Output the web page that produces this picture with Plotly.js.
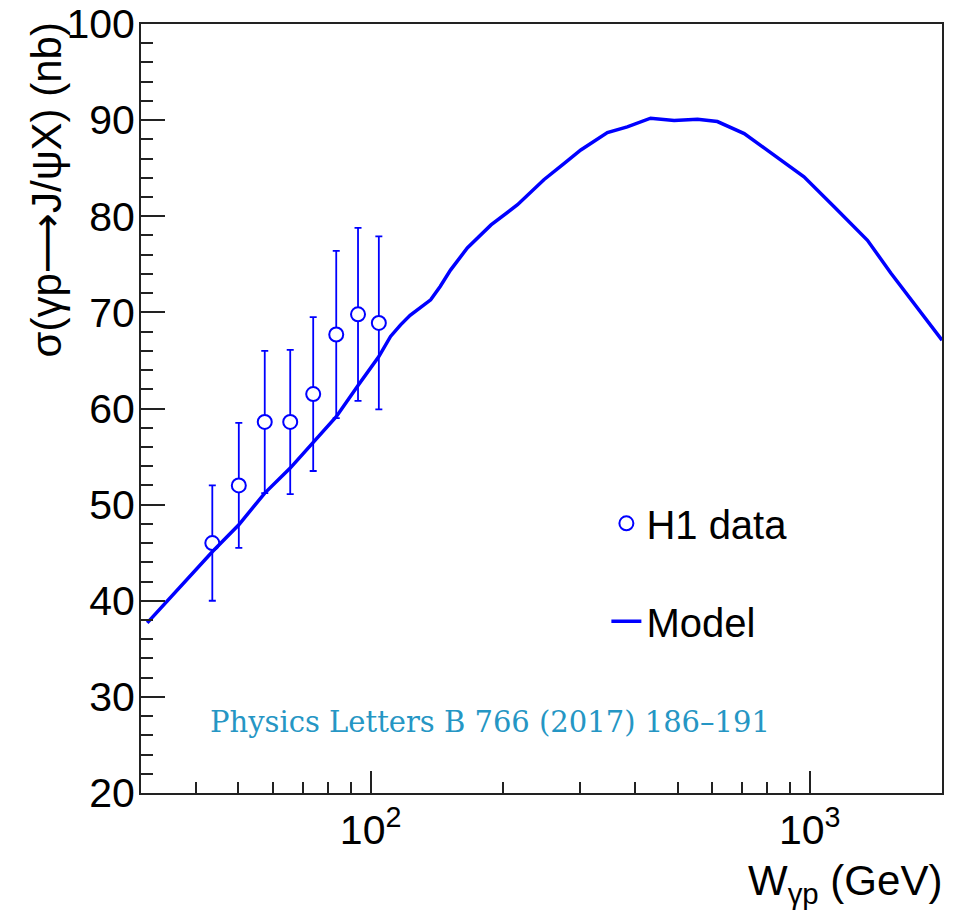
<!DOCTYPE html>
<html>
<head>
<meta charset="utf-8">
<script src="https://cdn.plot.ly/plotly-3.0.1.min.js"></script>
<style>html,body{margin:0;padding:0;background:#fff;}#chart{width:958px;height:914px;}</style>
</head>
<body>
<div id="chart"></div>
<script>
// H1 data
const h1W = [43.6, 50.1, 57.4, 65.6, 74.0, 83.5, 93.6, 104.4];
const h1Sigma = [46.0, 52.0, 58.6, 58.6, 61.5, 67.7, 69.8, 68.9];
const h1Err = [6.0, 6.5, 7.4, 7.5, 8.0, 8.7, 9.0, 9.0];

// Model curve
const modelW = [31, 43.6, 50.1, 57.4, 65.6, 74.05, 83.5, 93.6, 104.4, 111, 117, 123, 137, 144, 152, 166, 178, 188, 216, 248, 276, 301, 346, 384, 434, 491, 555, 616, 709, 815, 970, 1136, 1353, 1529, 2000];
const modelSigma = [37.7, 45.1, 47.9, 51.2, 53.8, 56.55, 59.15, 62.4, 65.4, 67.5, 68.7, 69.7, 71.3, 72.7, 74.4, 76.7, 78.0, 79.1, 81.2, 83.8, 85.5, 86.9, 88.7, 89.3, 90.2, 89.95, 90.1, 89.85, 88.6, 86.55, 84.1, 81.0, 77.5, 74.1, 67.1];

// Axis ticks
const xMajorVals = [100, 1000];
const xMajorText = ['10<sup>2</sup>', '10<sup>3</sup>'];
const xMinorVals = [40, 50, 60, 70, 80, 90, 200, 300, 400, 500, 600, 700, 800, 900];

const blue = '#0000ff';
const font = 'Liberation Sans, Arial, Helvetica, sans-serif';

const traces = [
  {
    x: h1W, y: h1Sigma, type: 'scatter', mode: 'markers', name: 'H1 data',
    legendgroup: 'a',
    marker: {symbol: 'circle', size: 14, color: '#ffffff', line: {color: blue, width: 2}},
    error_y: {type: 'data', array: h1Err, visible: true, color: blue, thickness: 1.8, width: 3.5},
    cliponaxis: false
  },
  {
    x: modelW, y: modelSigma, type: 'scatter', mode: 'lines', name: 'Model',
    legendgroup: 'b',
    line: {color: blue, width: 3.5}
  }
];

const layout = {
  width: 958, height: 914,
  margin: {l: 141, r: 16, t: 24, b: 121},
  paper_bgcolor: '#fff', plot_bgcolor: '#fff',
  font: {family: font, size: 40, color: '#000'},
  showlegend: true,
  legend: {
    x: 0.581, y: 0.393, xanchor: 'left', yanchor: 'top',
    bgcolor: 'rgba(0,0,0,0)', borderwidth: 0,
    font: {family: font, size: 40, color: '#000'},
    traceorder: 'grouped', tracegroupgap: 43, itemwidth: 30
  },
  xaxis: {
    type: 'log', range: [Math.log10(30), Math.log10(2000)],
    tickmode: 'array', tickvals: xMajorVals, ticktext: xMajorText,
    ticks: 'inside', ticklen: 22, tickwidth: 2, tickcolor: '#222',
    minor: {tickmode: 'array', tickvals: xMinorVals, ticks: 'inside', ticklen: 11, tickwidth: 2, tickcolor: '#222', showgrid: false},
    showline: true, linecolor: '#222', linewidth: 2, mirror: true,
    showgrid: false, zeroline: false,
    tickfont: {family: font, size: 41, color: '#000'}
  },
  yaxis: {
    range: [20, 100], tickmode: 'linear', tick0: 20, dtick: 10,
    ticks: 'inside', ticklen: 24, tickwidth: 2, tickcolor: '#222',
    minor: {dtick: 2, ticks: 'inside', ticklen: 12, tickwidth: 2, tickcolor: '#222', showgrid: false},
    showline: true, linecolor: '#222', linewidth: 2, mirror: true,
    showgrid: false, zeroline: false, ticklabelstandoff: -4,
    tickfont: {family: font, size: 41, color: '#000'}
  },
  annotations: [
    {
      text: 'σ(γp<span style="font-family:DejaVu Sans">⟶</span>J/ψX) (nb)', xref: 'paper', yref: 'paper', x: 0, y: 1,
      xanchor: 'center', yanchor: 'top', xshift: -95, yshift: 3, textangle: -90,
      showarrow: false, font: {family: font, size: 42, color: '#000'}
    },
    {
      text: 'W<sub>γp</sub> (GeV)', xref: 'paper', yref: 'paper', x: 1, y: 0,
      xanchor: 'right', yanchor: 'top', xshift: 2, yshift: -62,
      showarrow: false, font: {family: font, size: 42, color: '#000'}
    },
    {
      text: 'Physics Letters B 766 (2017) 186–191', xref: 'paper', yref: 'paper',
      x: (208 - 141) / 801, y: (793 - 722) / 769, xanchor: 'left', yanchor: 'middle',
      showarrow: false, font: {family: 'DejaVu Serif, Liberation Serif, serif', size: 29, color: '#2596c4'}
    }
  ]
};

Plotly.newPlot('chart', traces, layout, {displayModeBar: false, staticPlot: true});
</script>
</body>
</html>
